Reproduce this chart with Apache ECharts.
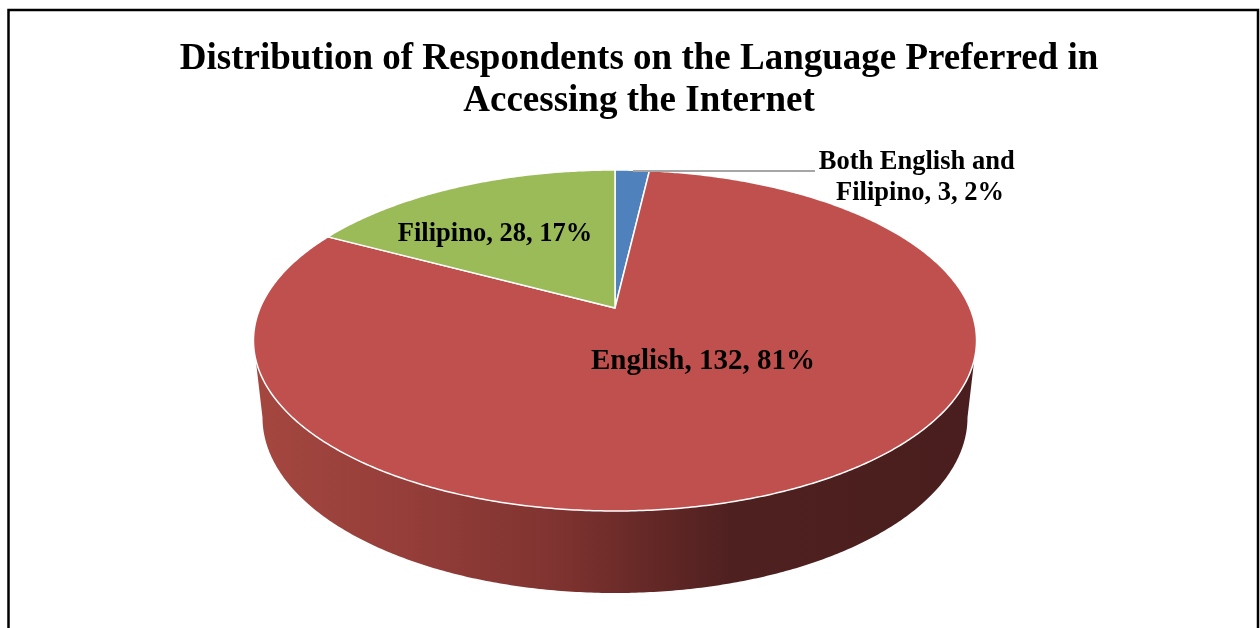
<!DOCTYPE html>
<html>
<head>
<meta charset="utf-8">
<title>Language Preferred in Accessing the Internet</title>
<script src="https://cdn.jsdelivr.net/npm/echarts@6.0.0/dist/echarts.min.js"></script>
<style>
  html, body { margin: 0; padding: 0; background: #ffffff; }
  #chart { width: 1260px; height: 628px; }
</style>
</head>
<body>
<div id="chart"></div>
<script>
// ---- data ----
const categories = ['Both English and Filipino', 'English', 'Filipino'];
const respondents = [3, 132, 28];
const sliceColors = ['#4f81bd', '#c0504d', '#9bbb59'];
const titleText = 'Distribution of Respondents on the Language Preferred in\nAccessing the Internet';

// ---- layout of the tilted pie (perspective projection of a flat disc) ----
const disc = {
  cx: 615, cy: 308,      // projected centre of the disc top
  A: 354.9, B: 164.3,    // horizontal / vertical half-axes
  k: 0.1906,             // perspective strength (far edge smaller)
  depth: 76, depthPow: 0.36,
  bottomScale: 0.975     // bottom rim slightly narrower
};
// label anchors [x, y] and style per category
const labelAnchors = [[920, 178], [703, 362], [495, 234]];
const labelSizes = [26.5, 29, 26.5];
const labelWidths = [220, 0, 0];
const leader = [[633, 171], [815, 171]];

const FONT = "'Liberation Serif', 'Times New Roman', serif";
const total = respondents.reduce((a, b) => a + b, 0);

// cumulative angles, clockwise from 12 o'clock
const angles = [];
let acc = 0;
respondents.forEach(v => {
  const a0 = acc / total * Math.PI * 2;
  acc += v;
  angles.push([a0, acc / total * Math.PI * 2]);
});

function topPt(t, r) {
  r = r === undefined ? 1 : r;
  const u = Math.sin(t) * r, v = -Math.cos(t) * r;
  const w = 1 - disc.k * v;
  return [disc.cx + disc.A * u / w, disc.cy + disc.B * v / w];
}
function bottomPt(t) {
  const u = Math.sin(t), v = -Math.cos(t);
  const w = 1 - disc.k * v;
  return [disc.cx + disc.A * disc.bottomScale * u / w,
          disc.cy + disc.B * v / w + disc.depth / Math.pow(w, disc.depthPow)];
}
function arc(fn, a0, a1) {
  const n = Math.max(2, Math.ceil(Math.abs(a1 - a0) / (Math.PI / 360)));
  const pts = [];
  for (let i = 0; i <= n; i++) pts.push(fn(a0 + (a1 - a0) * i / n));
  return pts;
}

// visible front rim lies between the two silhouette angles
const silR = Math.acos(-disc.k);
const silL = Math.PI * 2 - silR;

const sideGradient = {
  type: 'linear', x: 254, y: 0, x2: 977, y2: 0, global: true,
  colorStops: [
    { offset: 0.00, color: '#a4473f' },
    { offset: 0.20, color: '#963e3a' },
    { offset: 0.42, color: '#7f3330' },
    { offset: 0.55, color: '#642826' },
    { offset: 0.66, color: '#4f2020' },
    { offset: 1.00, color: '#4a1e1e' }
  ]
};

function renderSlice(params, api) {
  const i = params.dataIndex;
  const [a0, a1] = angles[i];
  const children = [];

  // side wall (only the front part is visible)
  const s = Math.max(a0, silR), e = Math.min(a1, silL);
  if (e > s) {
    const pts = arc(topPt, s, e).concat(arc(bottomPt, e, s));
    children.push({
      type: 'polygon', z2: 1,
      shape: { points: pts },
      style: { fill: sideGradient, stroke: null }
    });
  }

  // top face
  const topPts = [[disc.cx, disc.cy]].concat(arc(topPt, a0, a1));
  children.push({
    type: 'polygon', z2: 10,
    shape: { points: topPts },
    style: { fill: sliceColors[i], stroke: '#ffffff', lineWidth: 1.5, lineJoin: 'round' }
  });

  // data label
  const pct = Math.round(respondents[i] / total * 100);
  const txt = categories[i] + ', ' + respondents[i] + ', ' + pct + '%';
  const st = {
    text: txt, fill: '#000000',
    fontFamily: FONT, fontWeight: 'bold', fontSize: labelSizes[i],
    align: 'center', verticalAlign: 'middle', lineHeight: 31
  };
  if (labelWidths[i]) { st.width = labelWidths[i]; st.overflow = 'break'; }
  children.push({
    type: 'text', z2: 30,
    x: labelAnchors[i][0], y: labelAnchors[i][1],
    style: st
  });

  // leader line for the small outside-labelled slice
  if (labelWidths[i]) {
    children.push({
      type: 'polyline', z2: 20,
      shape: { points: leader },
      style: { stroke: '#a6a6a6', lineWidth: 2, fill: null }
    });
  }
  return { type: 'group', children: children };
}

const chart = echarts.init(document.getElementById('chart'), null, { renderer: 'canvas' });
chart.setOption({
  backgroundColor: '#ffffff',
  animation: false,
  title: {
    text: titleText,
    left: 634, top: 33,
    textAlign: 'center',
    textStyle: {
      fontFamily: FONT, fontWeight: 'bold', fontSize: 37,
      color: '#000000', lineHeight: 42
    }
  },
  graphic: [{
    type: 'rect', z: 100, silent: true,
    shape: { x: 8.5, y: 10, width: 1249.5, height: 700 },
    style: { fill: null, stroke: '#000000', lineWidth: 2.5 }
  }],
  series: [{
    type: 'custom',
    coordinateSystem: 'none',
    renderItem: renderSlice,
    data: categories.map((c, i) => ({ name: c, value: respondents[i] }))
  }]
});
</script>
</body>
</html>
